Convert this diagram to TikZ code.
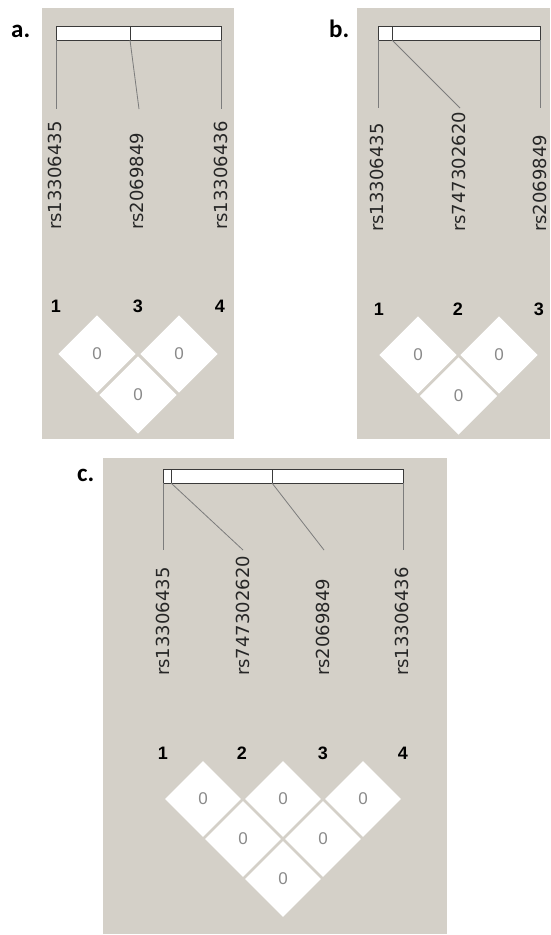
\documentclass[tikz,border=0pt]{standalone}
\usepackage{fontspec}
\setmainfont{DejaVu Sans}
\newfontfamily\snpfont{DejaVu Sans}
\newfontfamily\numfont{Liberation Sans}
\newfontfamily\panelfont{Carlito}
\usetikzlibrary{shapes.geometric}
\definecolor{panelbg}{HTML}{D4D0C8}
\definecolor{barline}{HTML}{3A3A3A}
\definecolor{conn}{HTML}{7C7C7C}
\definecolor{zerotxt}{HTML}{8A8A8A}
\tikzset{
  panel/.style={fill=panelbg, draw=none},
  barbox/.style={draw=barline, fill=white, line width=1pt},
  tick/.style={draw=barline, line width=1pt},
  connector/.style={draw=conn, line width=0.8pt},
  snp/.style={rotate=90, anchor=west, inner sep=0pt, font=\snpfont\fontsize{18}{18}\selectfont, text=black!85},
  idx/.style={inner sep=0pt, font=\numfont\bfseries\fontsize{18}{18}\selectfont},
  cell/.style={diamond, fill=white, draw=none, minimum width=77.5pt, minimum height=77.5pt, inner sep=0pt, aspect=1, text=zerotxt, font=\numfont\fontsize{17}{17}\selectfont},
  cellc/.style={cell, minimum width=76pt, minimum height=76pt},
  tag/.style={anchor=base west, inner sep=0pt, font=\panelfont\bfseries\fontsize{25}{25}\selectfont},
}
\begin{document}
\begin{tikzpicture}[x=1pt, y=-1pt]
\useasboundingbox (0,0) rectangle (550,935);
% ---------- panel a ----------
\fill[panel] (42,8) rectangle (234,439);
\node[tag] (taga) at (11,37) {a.};
\draw[barbox] (56,26) rectangle (221,40);
\coordinate (a1t) at (56,40);
\coordinate (a2t) at (130,40);
\coordinate (a3t) at (221,40);
\draw[tick] (130,26) -- (a2t);
\coordinate (a1e) at (56,109);
\coordinate (a2e) at (139,109);
\coordinate (a3e) at (221,109);
\draw[connector] (a1t) -- (a1e);
\draw[connector] (a2t) -- (a2e);
\draw[connector] (a3t) -- (a3e);
\node[snp] (as1) at (55,230) {rs13306435};
\node[snp] (as2) at (137,230) {rs2069849};
\node[snp] (as3) at (221,230) {rs13306436};
\node[idx] (an1) at (56,306) {1};
\node[idx] (an2) at (138,306) {3};
\node[idx] (an3) at (220,306) {4};
\node[cell] (a12) at (97,354) {0};
\node[cell] (a23) at (179,354) {0};
\node[cell] (a13) at (138,395) {0};
% ---------- panel b ----------
\fill[panel] (357,8) rectangle (550,439);
\node[tag] (tagb) at (329,37) {b.};
\draw[barbox] (378,26) rectangle (540,40);
\coordinate (b1t) at (378,40);
\coordinate (b2t) at (392,40);
\coordinate (b3t) at (540,40);
\draw[tick] (392,26) -- (b2t);
\coordinate (b1e) at (378,108);
\coordinate (b2e) at (460,108);
\coordinate (b3e) at (540,108);
\draw[connector] (b1t) -- (b1e);
\draw[connector] (b2t) -- (b2e);
\draw[connector] (b3t) -- (b3e);
\node[snp] (bs1) at (377,232) {rs13306435};
\node[snp] (bs2) at (459,232) {rs747302620};
\node[snp] (bs3) at (540,232) {rs2069849};
\node[idx] (bn1) at (379,309) {1};
\node[idx] (bn2) at (458,309) {2};
\node[idx] (bn3) at (539,309) {3};
\node[cell] (b12) at (418,355) {0};
\node[cell] (b23) at (499,355) {0};
\node[cell] (b13) at (458.5,396) {0};
% ---------- panel c ----------
\fill[panel] (103,458) rectangle (447,934);
\node[tag] (tagc) at (77,481) {c.};
\draw[barbox] (163,469) rectangle (403,483);
\coordinate (c1t) at (163,483);
\coordinate (c2t) at (171,483);
\coordinate (c3t) at (272,483);
\coordinate (c4t) at (403,483);
\draw[tick] (171,469) -- (c2t);
\draw[tick] (272,469) -- (c3t);
\coordinate (c1e) at (163,550);
\coordinate (c2e) at (243,550);
\coordinate (c3e) at (324,550);
\coordinate (c4e) at (403,550);
\draw[connector] (c1t) -- (c1e);
\draw[connector] (c2t) -- (c2e);
\draw[connector] (c3t) -- (c3e);
\draw[connector] (c4t) -- (c4e);
\node[snp] (cs1) at (163,676) {rs13306435};
\node[snp] (cs2) at (243,676) {rs747302620};
\node[snp] (cs3) at (323,676) {rs2069849};
\node[snp] (cs4) at (402,676) {rs13306436};
\node[idx] (cn1) at (163,753) {1};
\node[idx] (cn2) at (242,753) {2};
\node[idx] (cn3) at (323,753) {3};
\node[idx] (cn4) at (403,753) {4};
\node[cellc] (c12) at (203,799) {0};
\node[cellc] (c23) at (283,799) {0};
\node[cellc] (c34) at (363,799) {0};
\node[cellc] (c13) at (243,839) {0};
\node[cellc] (c24) at (323,839) {0};
\node[cellc] (c14) at (283,879) {0};
\end{tikzpicture}
\end{document}
